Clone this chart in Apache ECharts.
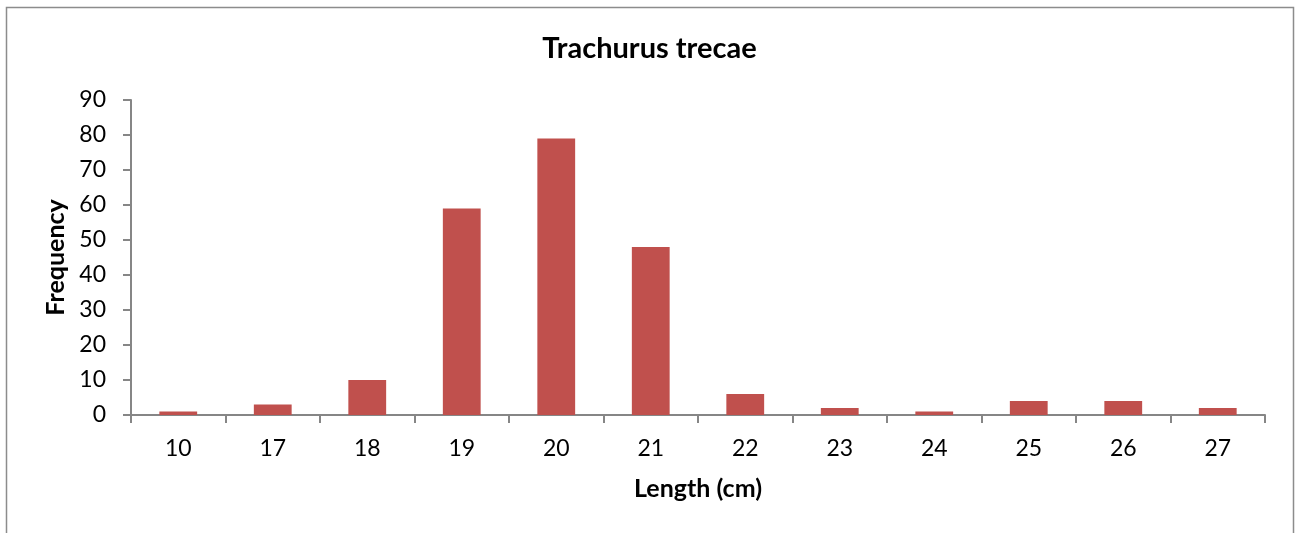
<!DOCTYPE html>
<html><head><meta charset="utf-8">
<script src="https://cdn.jsdelivr.net/npm/echarts@6/dist/echarts.min.js"></script>
<style>html,body{margin:0;padding:0;background:#fff}#c{width:1299px;height:533px}</style>
</head><body><div id="c"></div>
<script>
const categories = ['10','17','18','19','20','21','22','23','24','25','26','27'];
const frequency = [1, 3, 10, 59, 79, 48, 6, 2, 1, 4, 4, 2];
const yTicks = {min: 0, max: 90, interval: 10};
const FONT = 'Lato, "Open Sans", sans-serif';
const chart = echarts.init(document.getElementById('c'));
chart.setOption({
  animation: false,
  backgroundColor: '#fff',
  title: {text: 'Trachurus trecae', left: 'center', top: 29,
    textStyle: {fontFamily: FONT, fontSize: 29, fontWeight: 'bold', color: '#000'}},
  graphic: [{type: 'rect', shape: {x: 6.5, y: 7.5, width: 1287, height: 600},
    style: {fill: 'none', stroke: '#8c8c8c', lineWidth: 1.5}, silent: true}],
  grid: {left: 131, right: 34, top: 100, bottom: 118},
  xAxis: {type: 'category', data: categories,
    name: 'Length (cm)', nameLocation: 'middle', nameGap: 61,
    nameTextStyle: {fontFamily: FONT, fontSize: 25, fontWeight: 'bold', color: '#000'},
    axisLine: {lineStyle: {color: '#868686', width: 2}},
    axisTick: {show: true, length: 8, alignWithLabel: false, lineStyle: {color: '#868686', width: 2}},
    axisLabel: {fontFamily: FONT, fontSize: 23, color: '#000', margin: 22}},
  yAxis: {type: 'value', min: yTicks.min, max: yTicks.max, interval: yTicks.interval,
    name: 'Frequency', nameLocation: 'middle', nameGap: 59, nameRotate: 90,
    nameTextStyle: {fontFamily: FONT, fontSize: 25, fontWeight: 'bold', color: '#000'},
    axisLine: {show: true, lineStyle: {color: '#868686', width: 2}},
    axisTick: {show: true, length: 8, lineStyle: {color: '#868686', width: 2}},
    splitLine: {show: false},
    axisLabel: {fontFamily: FONT, fontSize: 23, color: '#000', margin: 25}},
  series: [{type: 'bar', data: frequency, barWidth: '40%',
    itemStyle: {color: '#c0504d'}}]
});
</script></body></html>
